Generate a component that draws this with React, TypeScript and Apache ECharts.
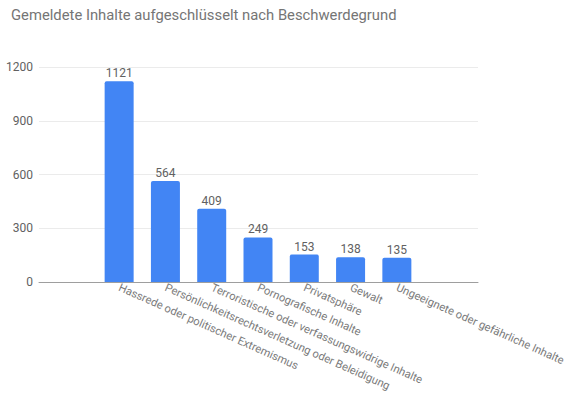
import React, { useEffect, useRef } from "react";
import * as echarts from "echarts";

const title = "Gemeldete Inhalte aufgeschlüsselt nach Beschwerdegrund";
const categories = [
  "Hassrede oder politischer Extremismus",
  "Persönlichkeitsrechtsverletzung oder Beleidigung",
  "Terroristische oder verfassungswidrige Inhalte",
  "Pornografische Inhalte",
  "Privatsphäre",
  "Gewalt",
  "Ungeeignete oder gefährliche Inhalte",
];
const values = [1121, 564, 409, 249, 153, 138, 135];
const yMin = 0;
const yMax = 1200;
const yInterval = 300;

export default function App() {
  const ref = useRef<HTMLDivElement>(null);
  useEffect(() => {
    if (!ref.current) return;
    const chart = echarts.init(ref.current, null, { renderer: "svg" });
    const font = "Roboto";
    chart.setOption({
      animation: false,
      title: {
        text: title,
        left: 6,
        top: 2,
        textStyle: { fontFamily: font, fontSize: 14.8, fontWeight: "normal", color: "#757575" },
      },
      grid: [
        { left: 39, right: 92, top: 67, bottom: 114 },
        { left: 96, right: 150, top: 67, bottom: 114 },
      ],
      xAxis: [
        {
          type: "value",
          gridIndex: 0,
          min: 0,
          max: 1,
          axisLine: { show: true, onZero: false, lineStyle: { color: "#9e9e9e", width: 1 } },
          axisTick: { show: false },
          axisLabel: { show: false },
          splitLine: { show: false },
        },
        {
          type: "category",
          gridIndex: 1,
          data: categories,
          axisLine: { show: false },
          axisTick: { show: false },
          axisLabel: {
            interval: 0,
            rotate: -24,
            margin: 5,
            fontFamily: font,
            fontSize: 11.2,
            color: "#7a7a7a",
          },
        },
      ],
      yAxis: [
        {
          type: "value",
          gridIndex: 0,
          min: yMin,
          max: yMax,
          interval: yInterval,
          axisLine: { show: false },
          axisTick: { show: false },
          axisLabel: {
            margin: 6,
            fontFamily: font,
            fontSize: 12,
            color: "#616161",
            formatter: (v: number) => String(v),
          },
          splitLine: { lineStyle: { color: "#ebebeb" } },
        },
        {
          type: "value",
          gridIndex: 1,
          min: yMin,
          max: yMax,
          interval: yInterval,
          show: false,
          splitLine: { show: false },
        },
      ],
      series: [
        {
          type: "bar",
          xAxisIndex: 1,
          yAxisIndex: 1,
          data: values,
          barWidth: 29,
          itemStyle: { color: "#4285f4", borderRadius: [2, 2, 0, 0] },
          label: {
            show: true,
            position: "top",
            distance: 2,
            fontFamily: font,
            fontSize: 12,
            color: "#616161",
          },
        },
      ],
    });
    return () => chart.dispose();
  }, []);
  return (
    <div
      ref={ref}
      style={{ position: "fixed", left: 0, top: 0, width: 570, height: 396, background: "#fff" }}
    />
  );
}
